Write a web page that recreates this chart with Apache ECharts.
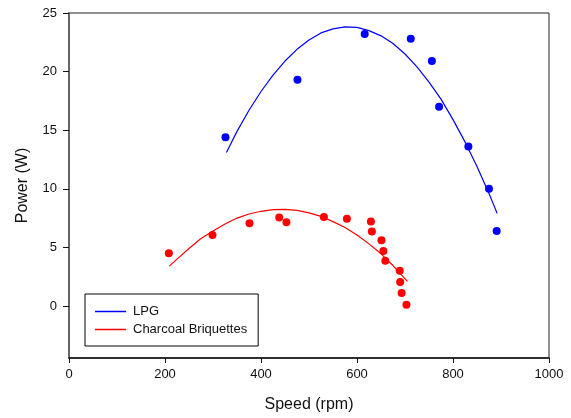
<!DOCTYPE html>
<html>
<head>
<meta charset="utf-8">
<script src="https://cdn.jsdelivr.net/npm/echarts@6/dist/echarts.min.js"></script>
<style>html,body{margin:0;padding:0;background:#fff;}#c{width:571px;height:418px;}</style>
</head>
<body>
<div id="c"></div>
<script>
// LPG measured points (speed rpm, power W)
var lpgSpeed = [326, 476, 616, 712, 756, 771, 832, 875, 891];
var lpgPower = [14.4, 19.3, 23.2, 22.8, 20.9, 17.0, 13.6, 10.0, 6.4];
// LPG fitted curve
var lpgFitSpeed = [328, 350, 375, 400, 425, 450, 475, 500, 525, 550, 575, 600, 625, 650, 675, 700, 725, 750, 775, 800, 825, 850, 875, 892];
var lpgFitPower = [13.1, 14.9, 16.7, 18.3, 19.7, 20.9, 21.9, 22.7, 23.3, 23.65, 23.82, 23.78, 23.5, 23.05, 22.4, 21.5, 20.4, 19.1, 17.65, 15.9, 14.0, 11.9, 9.6, 7.9];
// Charcoal briquettes measured points
var cbSpeed = [208, 299, 376, 438, 453, 531, 579, 629, 631, 651, 655, 659, 689, 690, 693, 703];
var cbPower = [4.5, 6.05, 7.05, 7.55, 7.15, 7.6, 7.45, 7.2, 6.35, 5.6, 4.7, 3.85, 3.0, 2.05, 1.1, 0.1];
// Charcoal briquettes fitted curve
var cbFitSpeed = [209, 225, 250, 275, 300, 325, 350, 375, 400, 425, 450, 475, 500, 525, 550, 575, 600, 625, 650, 675, 705];
var cbFitPower = [3.4, 4.0, 4.9, 5.75, 6.4, 7.0, 7.5, 7.85, 8.08, 8.22, 8.25, 8.16, 7.95, 7.65, 7.2, 6.7, 6.05, 5.3, 4.45, 3.45, 2.1];
// Axis ticks
var xTicks = [0, 200, 400, 600, 800, 1000];
var yTicks = [0, 5, 10, 15, 20, 25];

function pairs(xs, ys) { return xs.map(function (x, i) { return [x, ys[i]]; }); }

var chart = echarts.init(document.getElementById('c'), null, { renderer: 'canvas' });
var font = 'Arial, "Liberation Sans", sans-serif';
var lineIcon = 'path://M0,0 L31,0 L31,1.5 L0,1.5 Z';
chart.setOption({
  animation: false,
  backgroundColor: '#fff',
  grid: { left: 69, right: 22, top: 13, bottom: 60, show: true, borderColor: '#222', borderWidth: 1, containLabel: false },
  legend: {
    orient: 'vertical', left: 85, top: 294,
    data: [
      { name: 'LPG', icon: lineIcon, itemStyle: { color: '#0000ff', opacity: 1 } },
      { name: 'Charcoal Briquettes', icon: lineIcon, itemStyle: { color: '#ff0000', opacity: 1 } }
    ],
    borderColor: '#000', borderWidth: 1, borderRadius: 0,
    padding: [11, 11, 10, 10],
    itemGap: 5, itemWidth: 31, itemHeight: 1.5,
    textStyle: { fontFamily: font, fontSize: 13, color: '#111', padding: [0, 0, 0, 2], lineHeight: 13 }
  },
  xAxis: {
    type: 'value', min: 0, max: 1000, interval: 200,
    name: 'Speed (rpm)', nameLocation: 'middle', nameGap: 39,
    nameTextStyle: { fontFamily: font, fontSize: 16, color: '#111' },
    axisLine: { show: true, onZero: false, lineStyle: { color: '#111', width: 1.5 } },
    axisTick: { show: true, inside: false, length: 5, lineStyle: { color: '#111' } },
    axisLabel: { fontFamily: font, fontSize: 13, color: '#111', margin: 10, customValues: xTicks,
      formatter: function (v) { return String(v); } },
    splitLine: { show: false }
  },
  yAxis: {
    type: 'value', min: -4.44, max: 25,
    name: 'Power (W)', nameLocation: 'middle', nameGap: 38, nameRotate: 90,
    nameTextStyle: { fontFamily: font, fontSize: 16, color: '#111' },
    axisLine: { show: true, onZero: false, lineStyle: { color: '#666', width: 2 } },
    axisTick: { show: true, inside: false, length: 6, lineStyle: { color: '#111' }, customValues: yTicks },
    axisLabel: { fontFamily: font, fontSize: 13, color: '#111', margin: 12, customValues: yTicks,
      formatter: function (v) { return String(v); } },
    splitLine: { show: false }
  },
  series: [
    { name: 'LPG', type: 'line', data: pairs(lpgFitSpeed, lpgFitPower), smooth: false, symbol: 'none',
      lineStyle: { color: '#0000ff', width: 1.2 }, itemStyle: { color: '#0000ff' }, z: 2 },
    { name: 'Charcoal Briquettes', type: 'line', data: pairs(cbFitSpeed, cbFitPower), smooth: false, symbol: 'none',
      lineStyle: { color: '#ff0000', width: 1.2 }, itemStyle: { color: '#ff0000' }, z: 2 },
    { name: 'LPG pts', type: 'scatter', data: pairs(lpgSpeed, lpgPower), symbolSize: 8,
      itemStyle: { color: '#0000ff', opacity: 1 }, z: 3 },
    { name: 'CB pts', type: 'scatter', data: pairs(cbSpeed, cbPower), symbolSize: 8,
      itemStyle: { color: '#ff0000', opacity: 1 }, z: 3 }
  ]
});
</script>
</body>
</html>
